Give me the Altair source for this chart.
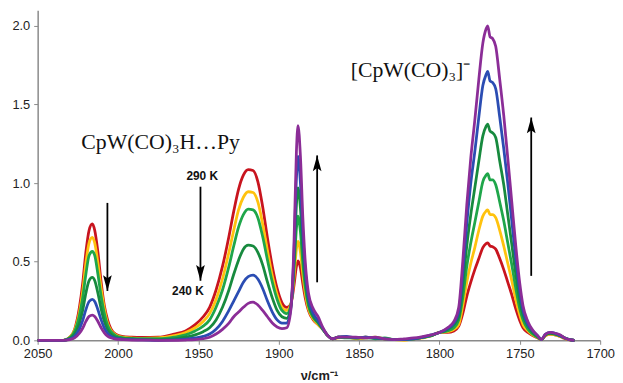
import altair as alt
import pandas as pd

# wavenumber grid (cm-1)
wavenumber = [
    2050, 2040, 2034, 2030, 2027, 2024, 2022, 2020, 2018, 2016, 2014.5, 2012.5, 2010.5, 2008.5, 2006.5, 2004.5, 2001.5, 1997.5, 1991.5, 1985,
    1975, 1965, 1958, 1952, 1947, 1943, 1939, 1935, 1931, 1928, 1925, 1922, 1919, 1916, 1913, 1910, 1907, 1904, 1901, 1898,
    1895, 1892.5, 1890.5, 1889, 1888, 1886.5, 1885, 1883.5, 1881.5, 1878.5, 1875.5, 1872.5, 1869.5, 1866.5,
    1863, 1858, 1852, 1846, 1840, 1834, 1828, 1822, 1816, 1810, 1805,
    1800, 1795, 1791, 1788, 1785.5, 1783, 1780.5, 1778, 1775.5, 1773, 1771, 1770, 1768.5, 1767, 1765, 1762.5, 1760, 1757.5, 1755, 1752.5, 1750, 1748, 1745, 1742, 1739, 1736.5,
    1734, 1731, 1728, 1725, 1722, 1719, 1716,
]

a290 = [
    0, 0, 0, 0.02, 0.07, 0.21, 0.36, 0.56, 0.70, 0.74, 0.70, 0.56, 0.37, 0.22, 0.13, 0.075, 0.04, 0.025, 0.02, 0.018,
    0.02, 0.04, 0.06, 0.10, 0.15, 0.21, 0.32, 0.47, 0.66, 0.82, 0.96, 1.05, 1.085, 1.08, 1.01, 0.85, 0.65, 0.47, 0.33, 0.24,
    0.21, 0.23, 0.35, 0.47, 0.505, 0.46, 0.36, 0.27, 0.19, 0.13, 0.10, 0.07, 0.03, 0.01,
    0.02, 0.02, 0.015, 0.02, 0.015, 0.01, 0.005, 0.005, 0.01, 0.02, 0.03,
    0.05, 0.05, 0.06, 0.09, 0.17, 0.28, 0.37, 0.45, 0.52, 0.59, 0.615, 0.62, 0.60, 0.595, 0.58, 0.52, 0.45, 0.37, 0.29, 0.20, 0.125, 0.08, 0.05, 0.03, 0.016, 0.005,
    0.03, 0.04, 0.035, 0.025, 0.012, 0.003, 0,
]
a280 = [
    0, 0, 0, 0.02, 0.065, 0.18, 0.31, 0.49, 0.62, 0.655, 0.62, 0.49, 0.33, 0.20, 0.11, 0.065, 0.035, 0.02, 0.015, 0.012,
    0.015, 0.03, 0.05, 0.08, 0.12, 0.17, 0.26, 0.39, 0.56, 0.70, 0.83, 0.91, 0.945, 0.94, 0.88, 0.74, 0.57, 0.41, 0.29, 0.21,
    0.19, 0.23, 0.40, 0.58, 0.63, 0.56, 0.42, 0.30, 0.20, 0.135, 0.10, 0.07, 0.03, 0.01,
    0.015, 0.02, 0.01, 0.015, 0.02, 0.01, 0.005, 0.0, 0.01, 0.015, 0.03,
    0.05, 0.055, 0.07, 0.10, 0.22, 0.37, 0.49, 0.59, 0.70, 0.79, 0.822, 0.83, 0.80, 0.80, 0.78, 0.70, 0.60, 0.49, 0.38, 0.26, 0.16, 0.10, 0.06, 0.035, 0.018, 0.005,
    0.03, 0.04, 0.035, 0.025, 0.012, 0.003, 0,
]
a270 = [
    0, 0, 0, 0.017, 0.057, 0.16, 0.27, 0.42, 0.54, 0.565, 0.54, 0.42, 0.28, 0.17, 0.096, 0.057, 0.03, 0.017, 0.012, 0.01,
    0.01, 0.02, 0.035, 0.06, 0.09, 0.13, 0.21, 0.32, 0.47, 0.60, 0.72, 0.80, 0.835, 0.83, 0.78, 0.66, 0.51, 0.37, 0.26, 0.19,
    0.17, 0.22, 0.45, 0.71, 0.79, 0.69, 0.49, 0.34, 0.22, 0.145, 0.11, 0.07, 0.03, 0.01,
    0.02, 0.015, 0.015, 0.02, 0.01, 0.015, 0.005, 0.005, 0.01, 0.02, 0.03,
    0.05, 0.06, 0.08, 0.13, 0.27, 0.47, 0.62, 0.75, 0.88, 1.01, 1.05, 1.06, 1.02, 1.02, 0.99, 0.88, 0.76, 0.62, 0.48, 0.33, 0.20, 0.13, 0.07, 0.04, 0.02, 0.005,
    0.035, 0.045, 0.04, 0.03, 0.015, 0.004, 0,
]
a260 = [
    0, 0, 0, 0.012, 0.04, 0.11, 0.19, 0.30, 0.38, 0.40, 0.38, 0.30, 0.20, 0.12, 0.068, 0.04, 0.02, 0.012, 0.008, 0.006,
    0.005, 0.01, 0.02, 0.035, 0.055, 0.08, 0.13, 0.21, 0.32, 0.42, 0.51, 0.58, 0.605, 0.60, 0.56, 0.48, 0.37, 0.27, 0.19, 0.15,
    0.14, 0.21, 0.50, 0.86, 0.97, 0.84, 0.58, 0.39, 0.24, 0.155, 0.115, 0.07, 0.03, 0.01,
    0.02, 0.02, 0.015, 0.015, 0.015, 0.01, 0.005, 0.005, 0.01, 0.02, 0.03,
    0.05, 0.07, 0.10, 0.15, 0.35, 0.60, 0.80, 0.97, 1.14, 1.30, 1.36, 1.375, 1.33, 1.32, 1.29, 1.14, 0.99, 0.80, 0.61, 0.42, 0.25, 0.16, 0.09, 0.05, 0.025, 0.005,
    0.035, 0.045, 0.04, 0.03, 0.015, 0.004, 0,
]
a250 = [
    0, 0, 0, 0.008, 0.026, 0.073, 0.125, 0.195, 0.247, 0.26, 0.247, 0.195, 0.13, 0.078, 0.044, 0.026, 0.013, 0.008, 0.004, 0.003,
    0, 0.003, 0.008, 0.015, 0.025, 0.04, 0.07, 0.12, 0.19, 0.25, 0.31, 0.37, 0.405, 0.415, 0.39, 0.33, 0.25, 0.18, 0.13, 0.11,
    0.11, 0.20, 0.56, 1.03, 1.17, 1.00, 0.68, 0.44, 0.27, 0.17, 0.125, 0.075, 0.03, 0.01,
    0.02, 0.025, 0.015, 0.02, 0.015, 0.01, 0.005, 0.005, 0.01, 0.02, 0.035,
    0.05, 0.075, 0.11, 0.18, 0.43, 0.74, 1.00, 1.20, 1.42, 1.62, 1.69, 1.71, 1.65, 1.64, 1.60, 1.42, 1.22, 1.00, 0.76, 0.52, 0.31, 0.19, 0.10, 0.06, 0.03, 0.005,
    0.04, 0.05, 0.045, 0.03, 0.015, 0.004, 0,
]
a240 = [
    0, 0, 0, 0.005, 0.016, 0.045, 0.077, 0.12, 0.152, 0.16, 0.152, 0.12, 0.08, 0.048, 0.027, 0.016, 0.008, 0.005, 0.002, 0.002,
    0, 0, 0.002, 0.005, 0.01, 0.02, 0.04, 0.07, 0.11, 0.15, 0.18, 0.21, 0.235, 0.243, 0.225, 0.19, 0.15, 0.11, 0.085, 0.075,
    0.08, 0.19, 0.62, 1.20, 1.365, 1.17, 0.78, 0.50, 0.30, 0.20, 0.15, 0.08, 0.03, 0.01,
    0.02, 0.02, 0.02, 0.015, 0.02, 0.01, 0.005, 0.01, 0.015, 0.025, 0.035,
    0.05, 0.08, 0.12, 0.21, 0.50, 0.86, 1.16, 1.40, 1.66, 1.89, 1.98, 2.0, 1.93, 1.92, 1.87, 1.66, 1.43, 1.16, 0.88, 0.60, 0.36, 0.22, 0.12, 0.065, 0.03, 0.005,
    0.04, 0.05, 0.045, 0.035, 0.015, 0.004, 0,
]

series_names = ["290 K", "280 K", "270 K", "260 K", "250 K", "240 K"]
series_values = [a290, a280, a270, a260, a250, a240]
series_colors = ["#C8141E", "#FFC20E", "#1FA64A", "#178A3E", "#2B4DB3", "#8B2D97"]

# annotations
label_text = ["CpW(CO)\u2083H\u2026Py", "[CpW(CO)\u2083]\u207b"]
label_x = [1973.5, 1818.0]
label_y = [1.215, 1.673]

temp_text = ["290 K", "240 K"]
temp_x = [1947.6, 1956.5]
temp_y = [1.047, 0.316]

arrow_x = [2006.6, 1948.7, 1876.1, 1742.9]
arrow_from = [0.874, 0.977, 0.369, 0.41]
arrow_to = [0.314, 0.379, 1.176, 1.417]

x_ticks = [2050, 2000, 1950, 1900, 1850, 1800, 1750, 1700]
y_ticks = [0.0, 0.5, 1.0, 1.5, 2.0]

xscale = alt.Scale(domain=[1700, 2050], reverse=True, nice=False, zero=False)
yscale = alt.Scale(domain=[0, 2.1], nice=False)

xaxis = alt.Axis(values=x_ticks, format="d", grid=False, labelFlush=False,
                 domainColor="#8a8a8a", tickColor="#8a8a8a", tickSize=4, domainWidth=1.5,
                 labelFont="Liberation Sans", labelFontSize=13, labelColor="#222222", labelPadding=3,
                 title="\u03bd/cm\u207b\u00b9", titleFont="Liberation Sans", titleFontSize=13,
                 titleFontWeight="bold", titleColor="#222222", titlePadding=10)
yaxis = alt.Axis(values=y_ticks, format=".1f", grid=False, labelFlush=False,
                 domainColor="#8a8a8a", tickColor="#8a8a8a", tickSize=4, domainWidth=1.5,
                 labelFont="Liberation Sans", labelFontSize=13, labelColor="#222222", labelPadding=4,
                 title=None)


def X(field):
    return alt.X(field, type="quantitative", scale=xscale, axis=xaxis)


def Y(field):
    return alt.Y(field, type="quantitative", scale=yscale, axis=yaxis)


layers = []
for name, vals, col in zip(series_names, series_values, series_colors):
    df = pd.DataFrame({"wn": wavenumber, "A": vals, "T": name})
    ch = alt.Chart(df).mark_line(color=col, strokeWidth=2.8, interpolate="monotone").encode(
        x=X("wn"), y=Y("A"), order="wn:Q",
    )
    layers.append(ch)

lab_df = pd.DataFrame({"x": label_x, "y": label_y, "t": label_text})
labels = alt.Chart(lab_df).mark_text(font="Liberation Serif", fontSize=22, color="#111111",
                                      align="center", baseline="alphabetic").encode(
    x=X("x"), y=Y("y"), text="t:N")

tmp_df = pd.DataFrame({"x": temp_x, "y": temp_y, "t": temp_text})
temps = alt.Chart(tmp_df).mark_text(font="Liberation Sans", fontSize=12, fontWeight="bold",
                                     color="#111111", align="center", baseline="middle").encode(
    x=X("x"), y=Y("y"), text="t:N")

arr_df = pd.DataFrame({"x": arrow_x, "y1": arrow_from, "y2": arrow_to})
arr_df["dir"] = ["down" if b < a else "up" for a, b in zip(arrow_from, arrow_to)]
rules = alt.Chart(arr_df).mark_rule(color="black", strokeWidth=1.8).encode(
    x=X("x"), y=Y("y1"), y2="y2:Q")
head_down = alt.Chart(arr_df).transform_filter(alt.datum.dir == "down").mark_point(
    shape="M0,0 L-0.55,-2 L0,-1.6 L0.55,-2 Z", filled=True, size=256, color="black", opacity=1,
    strokeWidth=0).encode(x=X("x"), y=Y("y2"))
head_up = alt.Chart(arr_df).transform_filter(alt.datum.dir == "up").mark_point(
    shape="M0,0 L-0.55,2 L0,1.6 L0.55,2 Z", filled=True, size=256, color="black", opacity=1,
    strokeWidth=0).encode(x=X("x"), y=Y("y2"))

chart = alt.layer(*layers, rules, head_down, head_up, labels, temps).properties(
    width=569, height=334,
    autosize=alt.AutoSizeParams(type="none"),
    padding={"left": 30, "top": 0, "right": 15, "bottom": 41},
    background="white",
).configure_view(stroke=None)

chart.save("out.html", embed_options={"renderer": "svg", "actions": False})
